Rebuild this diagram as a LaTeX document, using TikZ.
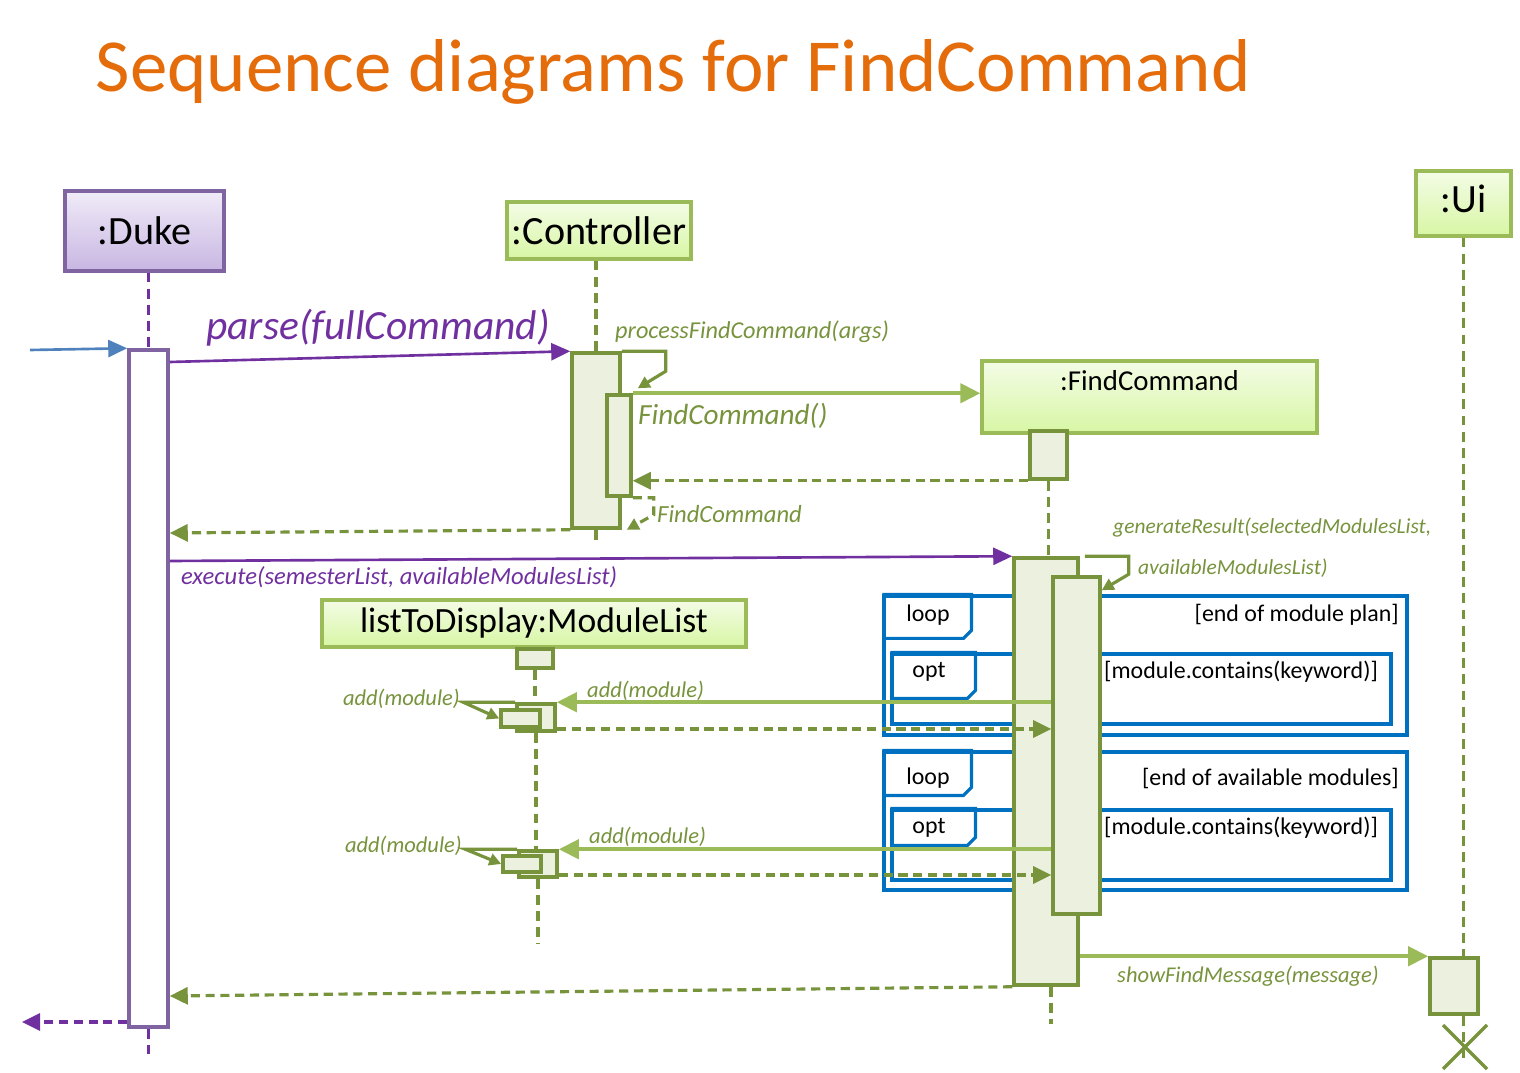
\documentclass[tikz,border=0pt]{standalone}
\usepackage{fontspec}
\setmainfont{Carlito}
\usetikzlibrary{arrows.meta,positioning,fit}

\definecolor{titleorange}{HTML}{E46C0A}
\definecolor{umlpurple}{HTML}{7030A0}
\definecolor{dukeline}{HTML}{8064A2}
\definecolor{duketop}{HTML}{F0EBF8}
\definecolor{dukebot}{HTML}{C8B6E2}
\definecolor{lightgreen}{HTML}{9BBB59}
\definecolor{darkgreen}{HTML}{77933C}
\definecolor{objtop}{HTML}{F4FCE6}
\definecolor{objbot}{HTML}{D7F6A4}
\definecolor{actfill}{HTML}{EBF1DE}
\definecolor{framebl}{HTML}{0070C0}
\definecolor{callblue}{HTML}{4F81BD}

\begin{document}
\begin{tikzpicture}[x=0.01cm, y=-0.01cm,
  obj/.style={draw=lightgreen, line width=0.9pt, top color=objtop, bottom color=objbot, inner sep=0pt},
  dukeobj/.style={obj, draw=dukeline, top color=duketop, bottom color=dukebot},
  objname/.style={font=\fontsize{11.4}{13}\selectfont, inner sep=0pt},
  act/.style={draw=darkgreen, line width=1pt, fill=actfill, inner sep=0pt},
  whiteact/.style={draw=dukeline, line width=1pt, fill=white, inner sep=0pt},
  life/.style={darkgreen, line width=1.1pt, dash pattern=on 2.8pt off 1.8pt},
  call/.style={lightgreen, line width=1.2pt, -{Triangle[length=0.2cm, width=0.19cm]}},
  pcall/.style={umlpurple, line width=0.75pt, -{Triangle[length=0.19cm, width=0.17cm]}},
  ret/.style={darkgreen, line width=0.9pt, dash pattern=on 2.6pt off 1.6pt, -{Triangle[length=0.18cm, width=0.17cm]}},
  self/.style={darkgreen, line width=0.9pt, -{Triangle[length=0.12cm, width=0.12cm]}},
  msg/.style={text=darkgreen, font=\fontsize{6.4}{8}\selectfont\itshape, inner sep=1pt},
  frame/.style={draw=framebl, line width=0.9pt, inner sep=0pt},
  guard/.style={font=\fontsize{6.8}{8}\selectfont, inner sep=1pt}]
  \useasboundingbox (0,0) rectangle (1520,1073);

  \node[anchor=base west, inner sep=0, text=titleorange, font=\fontsize{21.3}{25}\selectfont] (title) at (95,92) {Sequence diagrams for FindCommand};

  % participants
  \node[dukeobj, fit={(65,191) (224,271)}, label={[objname]center:{:Duke}}] (duke) {};
  \node[obj, fit={(507,202) (691,259)}, label={[objname]center:{:Controller}}] (ctrl) {};
  \node[obj, fit={(982,361) (1317,433)}, label={[anchor=north, inner sep=3pt, font=\fontsize{8.2}{10}\selectfont]north:{:FindCommand}}] (fc) {};
  \node[obj, fit={(322,600) (746,647)}, label={[objname, font=\fontsize{10.1}{12}\selectfont]center:{listToDisplay:ModuleList}}] (mlist) {};
  \node[obj, fit={(1416,171) (1511,236)}, label={[objname, yshift=0.05cm]center:{:Ui}}] (ui) {};

  % combined fragments
  \node[frame, fit={(884,596) (1407,735)}] (loopa) {};
  \draw[frame] (loopa.north west) -- ++(89,0) -- ++(0,36) -- ++(-8,8) -- ++(-81,0);
  \node[guard] at (928,615) {loop};
  \node[guard, anchor=east] at (1403,615) {[end of module plan]};
  \node[frame, fit={(892,654) (1391,724)}] (opta) {};
  \draw[frame] (opta.north west) -- ++(85,0) -- ++(0,38) -- ++(-8,8) -- ++(-77,0);
  \node[guard] at (929,672) {opt};
  \node[guard, anchor=west] at (1100,672) {[module.contains(keyword)]};
  \node[frame, fit={(884,752) (1407,890)}] (loopb) {};
  \draw[frame] (loopb.north west) -- ++(89,0) -- ++(0,37) -- ++(-8,8) -- ++(-81,0);
  \node[guard] at (928,778) {loop};
  \node[guard, anchor=east] at (1403,778) {[end of available modules]};
  \node[frame, fit={(892,810) (1391,880)}] (optb) {};
  \draw[frame] (optb.north west) -- ++(85,0) -- ++(0,29) -- ++(-8,8) -- ++(-77,0);
  \node[guard] at (929,828) {opt};
  \node[guard, anchor=west] at (1100,828) {[module.contains(keyword)]};

  % activations
  \node[whiteact, fit={(129,350) (168,1027)}] (dact) {};
  \node[act, fit={(572,353) (620,528)}] (cact) {};
  \node[act, fit={(607,395) (631,496)}] (csub) {};
  \node[act, fit={(1030,431) (1067,479)}] (finit) {};
  \node[act, fit={(1014,558) (1078,985)}] (fact) {};
  \node[act, fit={(1053,577) (1100,914)}] (fsub) {};
  \node[act, fit={(517,649) (553,668)}] (minit) {};
  \node[act, fit={(517,704) (555,731)}] (mact) {};
  \node[act, fit={(501,710) (540,727)}] (msub) {};
  \node[act, fit={(519,851) (557,877)}] (mactb) {};
  \node[act, fit={(503,856) (541,872)}] (msubb) {};
  \node[act, fit={(1430,958) (1478,1014)}] (uact) {};

  % lifelines
  \draw[life, umlpurple] (dact.north |- duke.south) -- (dact.north);
  \draw[life, umlpurple] (dact.south) -- ++(0,25);
  \draw[life] (cact.north |- ctrl.south) -- (cact.north);
  \draw[life] (cact.south) -- ++(0,10);
  \draw[life] (finit.south) -- (finit.south |- fact.north);
  \draw[life] (fsub.west |- fact.south) -- ++(0,37);
  \draw[life] (minit.south) -- ++(0,36);
  \draw[life] (mact.south) -- ++(0,120);
  \draw[life] (mactb.south) -- ++(0,65);
  \draw[life] (ui.south) -- (ui.south |- uact.north);
  \draw[life] (ui.south |- uact.south) -- ++(0,42);
  \coordinate (uiend) at (1465,1047);
  \draw[darkgreen, line width=1pt] (uiend) ++(-22,-22) -- ++(44,44) (uiend) ++(-22,22) -- ++(44,-44);

  % messages
  \coordinate (start) at (30,350);
  \draw[callblue, line width=0.75pt, -{Triangle[length=0.19cm, width=0.17cm]}] (start) -- (dact.north west);
  \draw[pcall] (dact.east |- 0,362) -- (cact.north west);
  \node[text=umlpurple, font=\fontsize{11.8}{14}\selectfont\itshape, inner sep=0] at (378,328) {parse(fullCommand)};

  \draw[self] (cact.north east) -- ++(44,0) -- ++(0,20) -- ([shift={(5,-5)}]csub.north east);
  \node[msg, anchor=west, font=\fontsize{6.9}{8}\selectfont\itshape] at (611,332) {processFindCommand(args)};

  \draw[call] (csub.north east) -- (fc.west |- csub.north east);
  \node[msg, anchor=west, font=\fontsize{8.3}{10}\selectfont\itshape] at (634,416) {FindCommand()};
  \draw[ret] (finit.south west) -- (csub.east |- finit.south west);
  \draw[self, dash pattern=on 2.6pt off 1.6pt] (csub.south east) -- ++(21,0) -- ++(0,17) -- ([xshift=0.05cm]cact.south east);
  \node[msg, anchor=west, font=\fontsize{7}{8}\selectfont\itshape] at (653,514) {FindCommand};

  \draw[ret] (cact.south west) -- (dact.east |- 0,533);

  \draw[pcall] (dact.east |- 0,561) -- (fact.north west);
  \node[msg, text=umlpurple, anchor=west, font=\fontsize{7}{8}\selectfont\itshape] at (177,577) {execute(semesterList, availableModulesList)};

  \draw[self] ([xshift=0.05cm]fact.north east) -- ++(44,0) -- ++(0,18) -- ([yshift=-0.15cm]fsub.north east);
  \node[msg, anchor=west, font=\fontsize{6.1}{8}\selectfont\itshape] at (1109,528) {generateResult(selectedModulesList,};
  \node[msg, anchor=west, font=\fontsize{6.1}{8}\selectfont\itshape] at (1134,568) {availableModulesList)};

  \draw[call] (fsub.west |- mact.north east) -- (mact.north east);
  \node[msg, anchor=west] at (583,691) {add(module)};
  \draw[self] (mact.north west) -- ++(-52,0) -- (msub.west);
  \node[msg, anchor=east] at (464,699) {add(module)};
  \draw[ret] (mact.south east |- 0,729) -- (fsub.west |- 0,729);

  \draw[call] (fsub.west |- mactb.north east) -- (mactb.north east);
  \node[msg, anchor=west] at (585,837) {add(module)};
  \draw[self] (mactb.north west) -- ++(-52,0) -- (msubb.west);
  \node[msg, anchor=east] at (466,846) {add(module)};
  \draw[ret] (mactb.south east |- 0,875) -- (fsub.west |- 0,875);

  \draw[call] (fact.east |- uact.north west) -- (uact.north west);
  \node[msg] at (1248,976) {showFindMessage(message)};

  \draw[ret] (fact.south west) -- (dact.east |- 0,996);
  \coordinate (finish) at (22,1022);
  \draw[ret, umlpurple] (dact.west |- finish) -- (finish);
\end{tikzpicture}
\end{document}
